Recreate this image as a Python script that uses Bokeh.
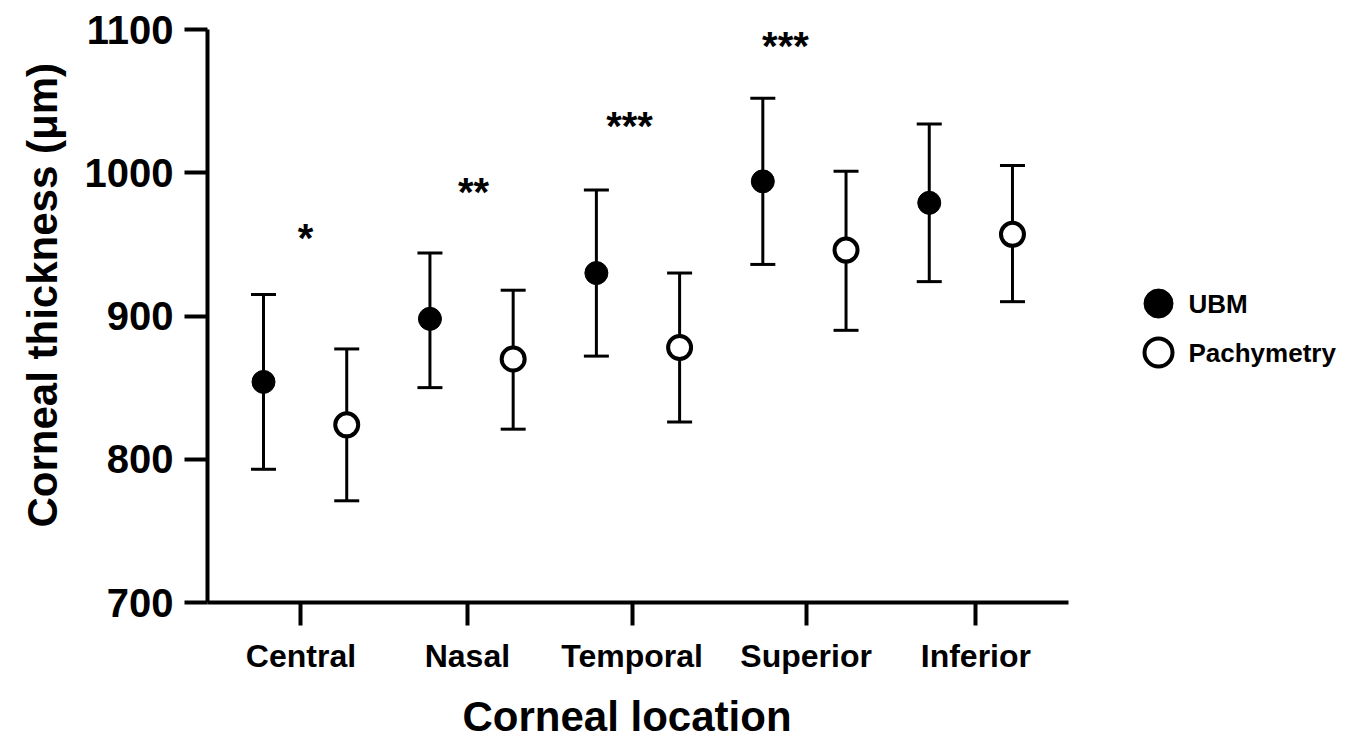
import math
from bokeh.plotting import figure
from bokeh.models import ColumnDataSource, Whisker, TeeHead, FixedTicker, Range1d, Title
from bokeh.core.properties import value
from bokeh.embed import file_html
from bokeh.resources import INLINE

# ---------------- data ----------------
locations = ["Central", "Nasal", "Temporal", "Superior", "Inferior"]
ubm_mean = [854, 898, 930, 994, 979]
ubm_lo = [793, 850, 872, 936, 924]
ubm_hi = [915, 944, 988, 1052, 1034]
pachy_mean = [824, 870, 878, 946, 957]
pachy_lo = [771, 821, 826, 890, 910]
pachy_hi = [877, 918, 930, 1001, 1005]
sig_labels = ["*", "**", "***", "***"]
sig_x = [0.505, 2.524, 4.398, 6.272]
sig_y = [958, 990, 1036, 1092]
y_ticks = [700, 800, 900, 1000, 1100]
x_tick_pos = [0.45, 2.45, 4.43, 6.52, 8.56]

FONT = "Liberation Sans"

ubm_x = [2 * i for i in range(len(locations))]
pachy_x = [2 * i + 1 for i in range(len(locations))]

src_u = ColumnDataSource(dict(x=ubm_x, m=ubm_mean, lo=ubm_lo, hi=ubm_hi))
src_p = ColumnDataSource(dict(x=pachy_x, m=pachy_mean, lo=pachy_lo, hi=pachy_hi))

p = figure(width=1354, height=741, output_backend="svg", toolbar_location=None,
           x_range=Range1d(-0.673, 13.11), y_range=Range1d(700, 1100),
           min_border_left=207, min_border_top=29, min_border_bottom=139,
           min_border_right=0)
p.outline_line_color = None
p.xgrid.visible = False
p.ygrid.visible = False
p.background_fill_color = "white"
p.border_fill_color = "white"

# axes
for ax in (p.xaxis[0], p.yaxis[0]):
    ax.axis_line_width = 4
    ax.axis_line_color = "black"
    ax.major_tick_line_width = 4
    ax.major_tick_line_color = "black"
    ax.major_tick_out = 23
    ax.major_tick_in = 0
    ax.minor_tick_line_color = None
    ax.major_label_text_font = FONT
    ax.major_label_text_font_style = "bold"
    ax.major_label_text_color = "black"

p.xaxis.bounds = (-0.673, 9.673)
p.xaxis.ticker = FixedTicker(ticks=x_tick_pos)
p.xaxis.major_label_overrides = {t: n for t, n in zip(x_tick_pos, locations)}
p.xaxis.major_label_text_font_size = "32px"
p.xaxis.major_label_standoff = 12

p.yaxis.bounds = (700, 1100)
p.yaxis.ticker = FixedTicker(ticks=y_ticks)
p.yaxis.major_label_text_font_size = "40px"
p.yaxis.major_label_standoff = 11

# axis titles as side-panel titles (positioned with offsets)
spacer = Title(text=" ", text_font_size="1px", standoff=13)
p.add_layout(spacer, "below")
xt = Title(text="Corneal location", align="left", offset=255, vertical_align="top",
           standoff=0, text_font=FONT, text_font_style="bold",
           text_font_size="42px", text_color="black")
p.add_layout(xt, "below")
yt = Title(text="Corneal thickness (μm)", align="left", offset=75,
           standoff=32, text_font=FONT, text_font_style="bold",
           text_font_size="42px", text_color="black")
p.add_layout(yt, "left")

# error bars
for src in (src_u, src_p):
    w = Whisker(source=src, base="x", lower="lo", upper="hi", dimension="height",
                line_width=3, line_color="black",
                upper_head=TeeHead(size=25, line_width=3, line_color="black"),
                lower_head=TeeHead(size=25, line_width=3, line_color="black"))
    p.add_layout(w)

p.scatter("x", "m", source=src_u, size=23, fill_color="black", line_color="black",
          line_width=1)
p.scatter("x", "m", source=src_p, size=23, fill_color="white", line_color="black",
          line_width=4)

# significance stars
p.text(x=sig_x, y=sig_y, text=sig_labels, text_align="center",
       text_baseline="alphabetic", y_offset=5,
       text_font=value(FONT), text_font_style="bold", text_font_size="40px",
       text_color="black")

# legend (drawn inside the extended frame)
LEG_X = 10.755
LEG_TX = 11.115
LEG_Y = [908.7, 874.5]
p.scatter([LEG_X], [LEG_Y[0]], size=29, fill_color="black", line_color="black", line_width=1)
p.scatter([LEG_X], [LEG_Y[1]], size=28, fill_color="white", line_color="black", line_width=4)
p.text(x=[LEG_TX, LEG_TX], y=LEG_Y, text=["UBM", "Pachymetry"], text_align="left",
       text_baseline="middle", text_font=value(FONT), text_font_style="bold",
       text_font_size="26px", text_color="black")

open("out.html", "w").write(file_html(p, INLINE))
